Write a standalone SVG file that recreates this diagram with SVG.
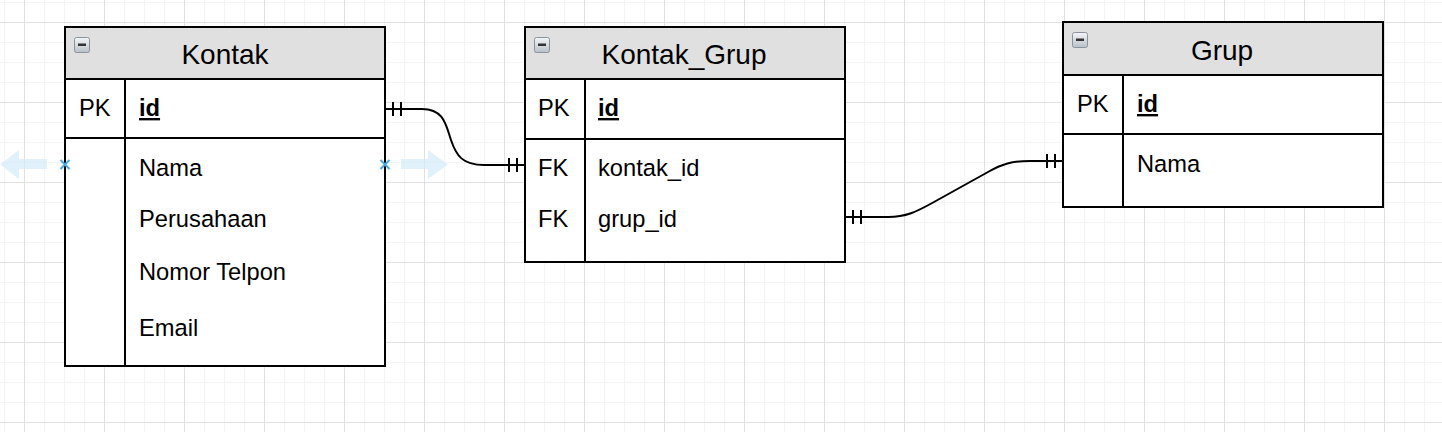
<svg xmlns="http://www.w3.org/2000/svg" width="1442" height="432" viewBox="0 0 1442 432">
<style>
.t{font-family:"Liberation Sans",Arial,sans-serif;fill:#000}
.title{font-size:28px;text-anchor:middle}
.row{font-size:23.7px}
.pk{font-size:23.7px;font-weight:bold;text-decoration:underline}
.box{fill:#fff;stroke:#000;stroke-width:2}
.hdr{fill:#e0e0e0;stroke:#000;stroke-width:2}
.ln{stroke:#000;stroke-width:2;fill:none}
.conn{stroke:#000;stroke-width:2;fill:none}
.hint{fill:#d4ebfa;opacity:0.7}
.x{stroke:#4aa8e6;stroke-width:2}
</style>
<defs>
<pattern id="grid" x="24" y="22" width="80" height="80" patternUnits="userSpaceOnUse">
<rect x="0" y="0" width="80" height="80" fill="#fff"/>
<g fill="#f4f4f4">
<rect x="20" y="0" width="1" height="80"/><rect x="40" y="0" width="1" height="80"/><rect x="60" y="0" width="1" height="80"/>
<rect x="0" y="20" width="80" height="1"/><rect x="0" y="40" width="80" height="1"/><rect x="0" y="60" width="80" height="1"/>
</g>
<g fill="#e0e0e0">
<rect x="0" y="0" width="1" height="80"/><rect x="0" y="0" width="80" height="1"/>
</g>
</pattern>
<linearGradient id="ig" x1="0" y1="0" x2="0" y2="1">
<stop offset="0" stop-color="#f4f6f8"/><stop offset="1" stop-color="#b9c0c8"/>
</linearGradient>
<g id="icon">
<rect x="0.5" y="0.5" width="15" height="15" rx="2" fill="url(#ig)" stroke="#8a939c" stroke-width="1"/>
<rect x="4" y="6.5" width="8" height="2.5" fill="#333"/>
</g>
</defs>
<rect x="0" y="0" width="1442" height="432" fill="url(#grid)"/>

<g id="hints">
<path class="hint" d="M47,159 H19 V150 L0,164.5 L19,179 V169 H47 Z"/>
<path class="hint" d="M401,159 H428 V150 L448,164.5 L428,179 V169 H401 Z"/>
</g>

<g id="kontak">
<rect class="box" x="65" y="27" width="320" height="339"/>
<rect class="hdr" x="65" y="27" width="320" height="52"/>
<line class="ln" x1="65" y1="138" x2="385" y2="138"/>
<line class="ln" x1="125" y1="79" x2="125" y2="366"/>
<use href="#icon" x="74" y="37"/>
<text class="t title" x="225" y="64">Kontak</text>
<text class="t row" x="79" y="116">PK</text>
<text class="t pk" x="139" y="116">id</text>
<text class="t row" x="139" y="176">Nama</text>
<text class="t row" x="139" y="227">Perusahaan</text>
<text class="t row" x="139" y="280">Nomor Telpon</text>
<text class="t row" x="139" y="336">Email</text>
</g>

<g id="kontak_grup">
<rect class="box" x="525" y="27" width="320" height="235"/>
<rect class="hdr" x="525" y="27" width="320" height="52"/>
<line class="ln" x1="525" y1="139" x2="845" y2="139"/>
<line class="ln" x1="585" y1="79" x2="585" y2="262"/>
<use href="#icon" x="534" y="37"/>
<text class="t title" x="684" y="64">Kontak_Grup</text>
<text class="t row" x="538" y="116">PK</text>
<text class="t pk" x="598" y="116">id</text>
<text class="t row" x="538" y="176">FK</text>
<text class="t row" x="598" y="176">kontak_id</text>
<text class="t row" x="538" y="227">FK</text>
<text class="t row" x="598" y="227">grup_id</text>
</g>

<g id="grup">
<rect class="box" x="1063" y="22" width="320" height="185"/>
<rect class="hdr" x="1063" y="22" width="320" height="53"/>
<line class="ln" x1="1063" y1="134" x2="1383" y2="134"/>
<line class="ln" x1="1123" y1="75" x2="1123" y2="207"/>
<use href="#icon" x="1072" y="32"/>
<text class="t title" x="1222" y="60">Grup</text>
<text class="t row" x="1077" y="112">PK</text>
<text class="t pk" x="1137" y="112">id</text>
<text class="t row" x="1137" y="172">Nama</text>
</g>

<g id="connectors">
<path class="conn" d="M385,109 H422 C444,109 446,125 451,140 C456,155 462,165 484,165 H525"/>
<path class="conn" d="M393,102 V116 M401,102 V116 M509,158 V172 M517,158 V172"/>
<path class="conn" d="M845,217 H888 C906,217 916,212 934,202 L988,172 C1002,164 1012,161 1030,161 H1063"/>
<path class="conn" d="M853,210 V224 M861,210 V224 M1047,154 V168 M1055,154 V168"/>
</g>

<g id="markers">
<path class="x" d="M60.5,160 L69.5,169 M69.5,160 L60.5,169"/>
<path class="x" d="M380.5,160 L389.5,169 M389.5,160 L380.5,169"/>
</g>
</svg>
